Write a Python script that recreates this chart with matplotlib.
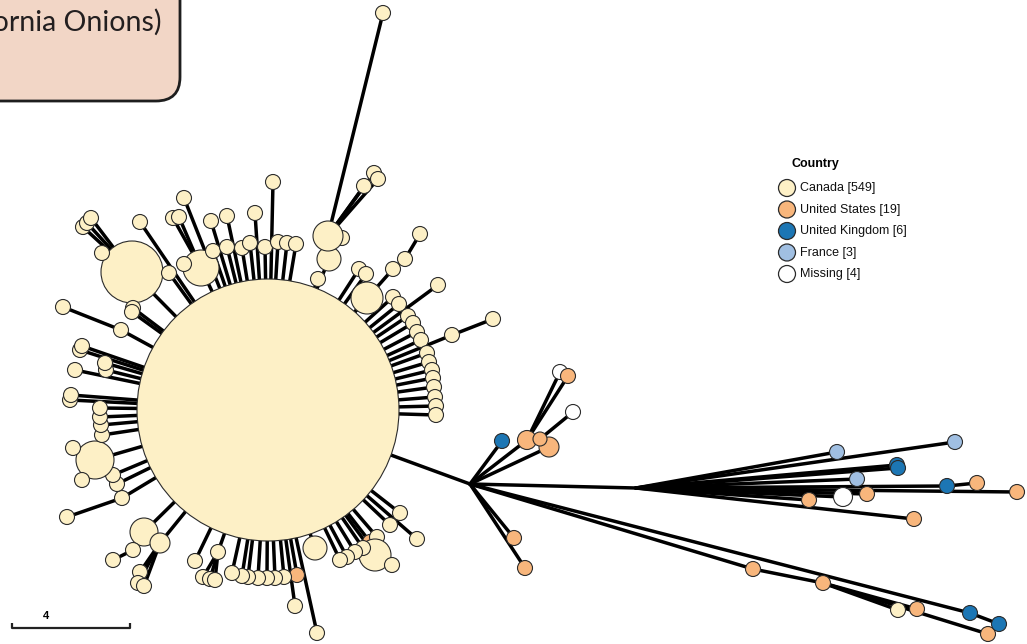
"""
Minimum spanning tree of outbreak isolates, coloured by country.
Node positions are laid out in pixel-like units (x right, y down).
"""

import matplotlib.pyplot as plt
from matplotlib.patches import Circle, FancyBboxPatch
from matplotlib.collections import LineCollection

# ── DATA ──────────────────────────────────────────────────────
# one entry per node; parent = index of the node it hangs from (-1 = root)
# country "hyp" = hypothetical branch point, drawn without a circle
node_x = [
    268,                                   # 0 central cluster
    342, 329, 328, 383, 374, 378, 364, 318,  # 1-8 top
    359, 366, 367, 393, 405, 420, 438, 452, 493,  # 9-17 upper right
    393, 399, 408, 413, 417, 421, 427, 429, 432, 433, 434, 435, 436, 436,  # 18-31 right arc
    400, 390, 370, 377, 417, 375, 392, 363, 355, 347, 340, 315, 317, 295, 297,  # 32-46 bottom right
    284, 275, 267, 258, 248, 242, 232, 218, 203, 210, 215, 195,  # 47-58 bottom arc
    144, 160, 133, 113, 140, 138, 144,  # 59-65 bottom left
    122, 67, 117, 113, 95, 73, 82, 102, 101, 100, 100, 70, 71,  # 66-78 left
    75, 106, 105, 80, 82, 121, 63, 132, 83, 87, 91, 102, 133, 132, 140, 169, 184,  # 79-95 upper left
    201, 173, 179, 184, 211, 227, 255, 273,  # 96-103
    213, 227, 242, 250, 265, 278, 287, 296,  # 104-111 top arc
    470, 502, 527, 560, 568, 549, 540, 573, 514, 525,  # 112-121 right branch
    636, 837, 955, 897, 898, 857, 947, 977, 1017, 843, 867, 809, 914,  # 122-134
    753, 823, 898, 917, 988, 970, 999,  # 135-141 lower branch
]
node_y = [
    410,
    238, 259, 236, 13, 173, 179, 186, 279,
    269, 274, 298, 269, 259, 234, 285, 335, 319,
    297, 304, 316, 323, 332, 340, 353, 362, 370, 378, 387, 397, 406, 415,
    513, 525, 542, 537, 539, 555, 565, 548, 552, 557, 560, 548, 633, 606, 575,
    577, 578, 578, 578, 577, 576, 573, 552, 577, 579, 580, 561,
    532, 543, 550, 560, 572, 583, 586,
    498, 517, 484, 475, 460, 448, 480, 435, 425, 417, 408, 400, 395,
    370, 370, 363, 350, 346, 330, 307, 272, 227, 223, 218, 253, 308, 312, 222, 273, 198,
    268, 218, 217, 264, 221, 216, 213, 182,
    251, 247, 248, 243, 247, 242, 243, 244,
    484, 441, 440, 372, 376, 447, 439, 412, 538, 568,
    488, 452, 442, 465, 468, 479, 486, 483, 492, 497, 494, 500, 519,
    569, 583, 610, 609, 634, 613, 624,
]
node_r = [
    131,
    7.5, 12, 15, 7.5, 7.5, 7.5, 7.5, 7.5,
    7.5, 7.5, 16, 7.5, 7.5, 7.5, 7.5, 7.5, 7.5,
    7.5, 7.5, 7.5, 7.5, 7.5, 7.5, 7.5, 7.5, 7.5, 7.5, 7.5, 7.5, 7.5, 7.5,
    7.5, 7.5, 7.5, 7.5, 7.5, 16, 7.5, 7.5, 7.5, 7.5, 7.5, 12, 7.5, 7.5, 7.5,
    7.5, 7.5, 7.5, 7.5, 7.5, 7.5, 7.5, 7.5, 7.5, 7.5, 7.5, 7.5,
    14, 10, 7.5, 7.5, 7.5, 7.5, 7.5,
    7.5, 7.5, 7.5, 7.5, 19, 7.5, 7.5, 7.5, 7.5, 7.5, 7.5, 7.5, 7.5,
    7.5, 7.5, 7.5, 7.5, 7.5, 7.5, 7.5, 31, 7.5, 7.5, 7.5, 7.5, 7.5, 7.5, 7.5, 7.5, 7.5,
    18, 7.5, 7.5, 7.5, 7.5, 7.5, 7.5, 7.5,
    7.5, 7.5, 7.5, 7.5, 7.5, 7.5, 7.5, 7.5,
    0, 7.5, 9.5, 7.5, 7.5, 10, 7, 7.5, 7.5, 7.5,
    0, 7.5, 7.5, 7.5, 7.5, 7.5, 7.5, 7.5, 7.5, 9.5, 7.5, 7.5, 7.5,
    7.5, 7.5, 7.5, 7.5, 7.5, 7.5, 7.5,
]
node_country = (
    ["CA"]
    + ["CA"] * 8
    + ["CA"] * 9
    + ["CA"] * 14
    + ["CA", "CA", "US", "CA", "CA", "CA", "CA", "CA", "CA", "CA", "CA", "CA", "CA", "CA", "US"]
    + ["CA"] * 12
    + ["CA"] * 7
    + ["CA"] * 13
    + ["CA"] * 17
    + ["CA"] * 8
    + ["CA"] * 8
    + ["hyp", "UK", "US", "NA", "US", "US", "US", "NA", "US", "US"]
    + ["hyp", "FR", "FR", "UK", "UK", "FR", "UK", "US", "US", "NA", "US", "US", "US"]
    + ["US", "US", "CA", "US", "US", "UK", "UK"]
)
node_parent = [
    -1,
    3, 0, 2, 3, 3, 3, 3, 0,
    0, 0, 0, 0, 12, 13, 0, 0, 16,
    0, 0, 0, 0, 0, 0, 0, 0, 0, 0, 0, 0, 0, 0,
    0, 0, 0, 0, 0, 0, 37, 0, 0, 0, 0, 0, 0, 0, 0,
    0, 0, 0, 0, 0, 0, 0, 0, 54, 54, 54, 0,
    0, 0, 59, 61, 60, 60, 60,
    0, 66, 0, 0, 0, 70, 70, 0, 0, 0, 0, 0, 0,
    0, 0, 0, 0, 0, 0, 84, 0, 86, 86, 86, 86, 0, 0, 0, 0, 0,
    0, 96, 96, 96, 0, 0, 0, 0,
    0, 0, 0, 0, 0, 0, 0, 0,
    0, 112, 112, 114, 114, 112, 117, 118, 112, 112,
    112, 122, 122, 122, 122, 122, 122, 128, 122, 122, 122, 122, 122,
    112, 135, 136, 136, 136, 112, 140,
]

legend_labels = ["Canada [549]", "United States [19]", "United Kingdom [6]",
                 "France [3]", "Missing [4]"]
legend_keys = ["CA", "US", "UK", "FR", "NA"]

colors = {
    "CA": "#fdf0c6",
    "US": "#f8b67c",
    "UK": "#1c76b4",
    "FR": "#a0bfe2",
    "NA": "#ffffff",
}

# ── FIGURE ────────────────────────────────────────────────────
W, H = 1027, 644
fig = plt.figure(figsize=(W / 100, H / 100), dpi=100, facecolor="white")
ax = fig.add_axes([0, 0, 1, 1])
ax.set_xlim(0, W)
ax.set_ylim(H, 0)
ax.axis("off")

# edges
segments = [
    [(node_x[p], node_y[p]), (node_x[i], node_y[i])]
    for i, p in enumerate(node_parent) if p >= 0
]
ax.add_collection(LineCollection(segments, colors="black", linewidths=2.5,
                                 capstyle="round", zorder=1))

# nodes, drawn in list order
for i, (x, y, r, c) in enumerate(zip(node_x, node_y, node_r, node_country)):
    if c == "hyp":
        continue
    ax.add_patch(Circle((x, y), r, facecolor=colors[c], edgecolor="#2b2b2b",
                        linewidth=0.8, zorder=2 + i * 0.01))

# legend
ax.text(791, 164, "Country", fontsize=9, fontweight="bold",
        family="Liberation Sans", va="center", ha="left")
for k, (lab, key) in enumerate(zip(legend_labels, legend_keys)):
    ly = 188 + k * 21.5
    ax.add_patch(Circle((787, ly), 8.5, facecolor=colors[key],
                        edgecolor="#2b2b2b", linewidth=0.9, zorder=5))
    ax.text(800, ly, lab, fontsize=9, family="Liberation Sans",
            va="center", ha="left", color="#111111")

# scale bar
ax.plot([12, 12, 130, 130], [623, 628, 628, 623], color="#222222",
        linewidth=1.6, solid_capstyle="butt")
ax.text(46, 619, "4", fontsize=8, fontweight="bold",
        family="Liberation Sans", ha="center", va="baseline")

# title box (clipped by the figure edge, as in the original crop)
box = FancyBboxPatch((-60, -60), 240, 161,
                     boxstyle="round,pad=0,rounding_size=24",
                     facecolor="#f2d6c6", edgecolor="#1e1e1e",
                     linewidth=2.0, zorder=6, clip_on=False)
ax.add_patch(box)
ax.text(161, 31, "(California Onions)", fontsize=20.5, family="Lato",
        ha="right", va="baseline", color="#231f20", zorder=7)

fig.savefig("out.png", dpi=100, facecolor="white")
plt.close(fig)
